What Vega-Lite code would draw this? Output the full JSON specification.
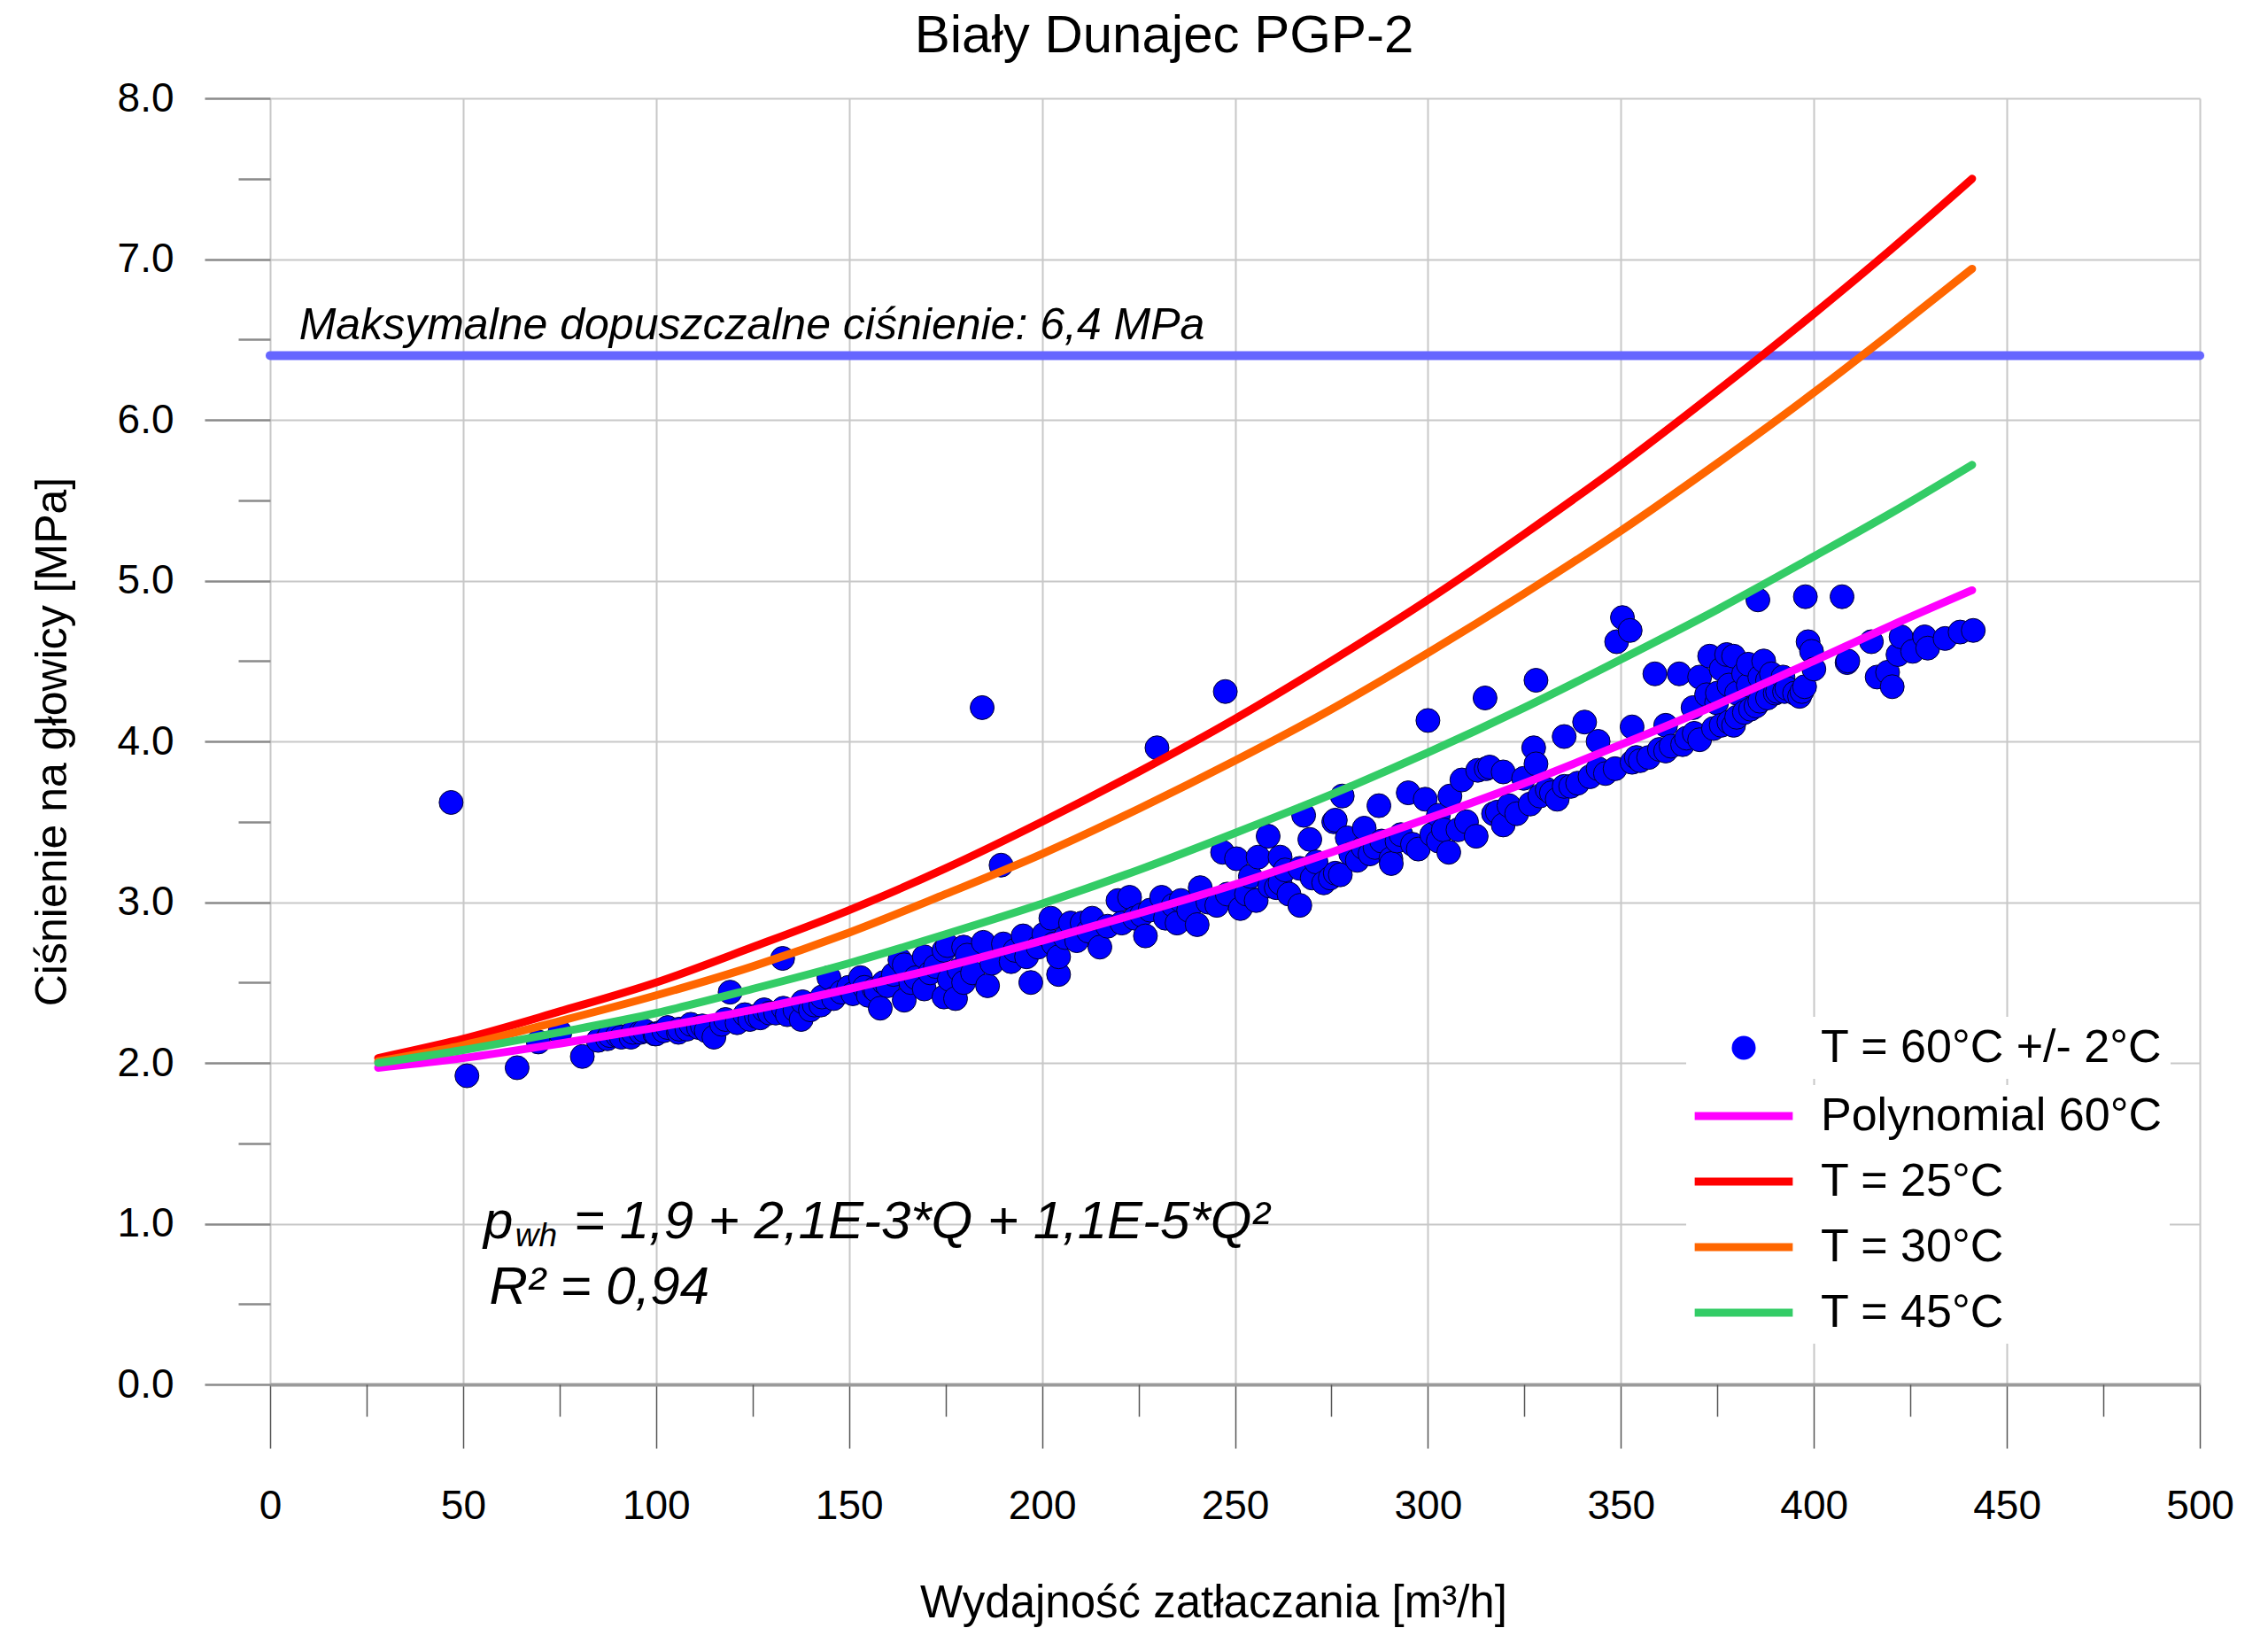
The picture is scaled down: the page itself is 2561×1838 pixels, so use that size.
{
  "$schema": "https://vega.github.io/schema/vega-lite/v6.json",
  "width": 2179,
  "height": 1452,
  "autosize": {"type": "none"},
  "padding": {"left": 305, "top": 111, "right": 77, "bottom": 275},
  "background": "white",
  "title": {"text": "Biały Dunajec PGP-2", "font": "Liberation Sans", "fontSize": 60, "fontWeight": "normal", "color": "black", "anchor": "middle", "frame": "group", "dx": -80, "dy": 61, "baseline": "alphabetic", "offset": 30},
  "config": {"view": {"stroke": null}, "font": "Liberation Sans"},
  "datasets": {
    "pts": [
      {"Q":46.9,"p":3.62,"s":"T = 60°C +/- 2°C"},{"Q":51,"p":1.92,"s":"T = 60°C +/- 2°C"},{"Q":64,"p":1.97,"s":"T = 60°C +/- 2°C"},{"Q":80.9,"p":2.04,"s":"T = 60°C +/- 2°C"},{"Q":69.5,"p":2.13,"s":"T = 60°C +/- 2°C"},{"Q":75.1,"p":2.19,"s":"T = 60°C +/- 2°C"},{"Q":85,"p":2.14,"s":"T = 60°C +/- 2°C"},{"Q":87.4,"p":2.15,"s":"T = 60°C +/- 2°C"},{"Q":88,"p":2.17,"s":"T = 60°C +/- 2°C"},{"Q":90,"p":2.17,"s":"T = 60°C +/- 2°C"},
      {"Q":91,"p":2.16,"s":"T = 60°C +/- 2°C"},{"Q":93.5,"p":2.16,"s":"T = 60°C +/- 2°C"},{"Q":94,"p":2.19,"s":"T = 60°C +/- 2°C"},{"Q":96,"p":2.19,"s":"T = 60°C +/- 2°C"},{"Q":97,"p":2.2,"s":"T = 60°C +/- 2°C"},{"Q":99.7,"p":2.18,"s":"T = 60°C +/- 2°C"},{"Q":100,"p":2.18,"s":"T = 60°C +/- 2°C"},{"Q":102,"p":2.2,"s":"T = 60°C +/- 2°C"},{"Q":103,"p":2.22,"s":"T = 60°C +/- 2°C"},{"Q":105.8,"p":2.19,"s":"T = 60°C +/- 2°C"},
      {"Q":106,"p":2.21,"s":"T = 60°C +/- 2°C"},{"Q":108,"p":2.21,"s":"T = 60°C +/- 2°C"},{"Q":109,"p":2.24,"s":"T = 60°C +/- 2°C"},{"Q":111,"p":2.22,"s":"T = 60°C +/- 2°C"},{"Q":112,"p":2.23,"s":"T = 60°C +/- 2°C"},{"Q":113,"p":2.2,"s":"T = 60°C +/- 2°C"},{"Q":115,"p":2.16,"s":"T = 60°C +/- 2°C"},{"Q":117,"p":2.24,"s":"T = 60°C +/- 2°C"},{"Q":118,"p":2.27,"s":"T = 60°C +/- 2°C"},{"Q":119.2,"p":2.44,"s":"T = 60°C +/- 2°C"},
      {"Q":121,"p":2.25,"s":"T = 60°C +/- 2°C"},{"Q":123,"p":2.3,"s":"T = 60°C +/- 2°C"},{"Q":124.3,"p":2.27,"s":"T = 60°C +/- 2°C"},{"Q":126,"p":2.29,"s":"T = 60°C +/- 2°C"},{"Q":127,"p":2.28,"s":"T = 60°C +/- 2°C"},{"Q":128,"p":2.33,"s":"T = 60°C +/- 2°C"},{"Q":129.4,"p":2.31,"s":"T = 60°C +/- 2°C"},{"Q":131,"p":2.31,"s":"T = 60°C +/- 2°C"},{"Q":132.8,"p":2.65,"s":"T = 60°C +/- 2°C"},{"Q":133,"p":2.34,"s":"T = 60°C +/- 2°C"},
      {"Q":134,"p":2.3,"s":"T = 60°C +/- 2°C"},{"Q":136,"p":2.33,"s":"T = 60°C +/- 2°C"},{"Q":137.6,"p":2.27,"s":"T = 60°C +/- 2°C"},{"Q":138,"p":2.38,"s":"T = 60°C +/- 2°C"},{"Q":140,"p":2.33,"s":"T = 60°C +/- 2°C"},{"Q":141,"p":2.36,"s":"T = 60°C +/- 2°C"},{"Q":142.7,"p":2.36,"s":"T = 60°C +/- 2°C"},{"Q":143,"p":2.41,"s":"T = 60°C +/- 2°C"},{"Q":144.8,"p":2.53,"s":"T = 60°C +/- 2°C"},{"Q":146,"p":2.4,"s":"T = 60°C +/- 2°C"},
      {"Q":148,"p":2.44,"s":"T = 60°C +/- 2°C"},{"Q":149.9,"p":2.47,"s":"T = 60°C +/- 2°C"},{"Q":151,"p":2.43,"s":"T = 60°C +/- 2°C"},{"Q":153,"p":2.53,"s":"T = 60°C +/- 2°C"},{"Q":154,"p":2.47,"s":"T = 60°C +/- 2°C"},{"Q":155,"p":2.42,"s":"T = 60°C +/- 2°C"},{"Q":156.5,"p":2.46,"s":"T = 60°C +/- 2°C"},{"Q":157,"p":2.45,"s":"T = 60°C +/- 2°C"},{"Q":158.1,"p":2.34,"s":"T = 60°C +/- 2°C"},{"Q":159,"p":2.5,"s":"T = 60°C +/- 2°C"},
      {"Q":160,"p":2.48,"s":"T = 60°C +/- 2°C"},{"Q":161.5,"p":2.55,"s":"T = 60°C +/- 2°C"},{"Q":163.2,"p":2.64,"s":"T = 60°C +/- 2°C"},{"Q":164.3,"p":2.61,"s":"T = 60°C +/- 2°C"},{"Q":164.3,"p":2.39,"s":"T = 60°C +/- 2°C"},{"Q":166,"p":2.5,"s":"T = 60°C +/- 2°C"},{"Q":167.3,"p":2.53,"s":"T = 60°C +/- 2°C"},{"Q":169.5,"p":2.66,"s":"T = 60°C +/- 2°C"},{"Q":169.5,"p":2.46,"s":"T = 60°C +/- 2°C"},{"Q":171,"p":2.56,"s":"T = 60°C +/- 2°C"},
      {"Q":172.4,"p":2.6,"s":"T = 60°C +/- 2°C"},{"Q":174.6,"p":2.7,"s":"T = 60°C +/- 2°C"},{"Q":174.6,"p":2.41,"s":"T = 60°C +/- 2°C"},{"Q":175.5,"p":2.73,"s":"T = 60°C +/- 2°C"},{"Q":176,"p":2.52,"s":"T = 60°C +/- 2°C"},{"Q":177.6,"p":2.4,"s":"T = 60°C +/- 2°C"},{"Q":178.5,"p":2.58,"s":"T = 60°C +/- 2°C"},{"Q":179.7,"p":2.72,"s":"T = 60°C +/- 2°C"},{"Q":179.7,"p":2.5,"s":"T = 60°C +/- 2°C"},{"Q":180.6,"p":2.67,"s":"T = 60°C +/- 2°C"},
      {"Q":182,"p":2.56,"s":"T = 60°C +/- 2°C"},{"Q":184.5,"p":4.21,"s":"T = 60°C +/- 2°C"},{"Q":184.8,"p":2.75,"s":"T = 60°C +/- 2°C"},{"Q":185.9,"p":2.48,"s":"T = 60°C +/- 2°C"},{"Q":187,"p":2.62,"s":"T = 60°C +/- 2°C"},{"Q":189.4,"p":3.23,"s":"T = 60°C +/- 2°C"},{"Q":190,"p":2.74,"s":"T = 60°C +/- 2°C"},{"Q":192,"p":2.63,"s":"T = 60°C +/- 2°C"},{"Q":193,"p":2.7,"s":"T = 60°C +/- 2°C"},{"Q":195.1,"p":2.79,"s":"T = 60°C +/- 2°C"},
      {"Q":196,"p":2.66,"s":"T = 60°C +/- 2°C"},{"Q":197.1,"p":2.5,"s":"T = 60°C +/- 2°C"},{"Q":199,"p":2.72,"s":"T = 60°C +/- 2°C"},{"Q":200.5,"p":2.8,"s":"T = 60°C +/- 2°C"},{"Q":202.3,"p":2.9,"s":"T = 60°C +/- 2°C"},{"Q":203,"p":2.74,"s":"T = 60°C +/- 2°C"},{"Q":204.3,"p":2.55,"s":"T = 60°C +/- 2°C"},{"Q":204.3,"p":2.66,"s":"T = 60°C +/- 2°C"},{"Q":206,"p":2.78,"s":"T = 60°C +/- 2°C"},{"Q":207.4,"p":2.87,"s":"T = 60°C +/- 2°C"},
      {"Q":209,"p":2.76,"s":"T = 60°C +/- 2°C"},{"Q":210.4,"p":2.87,"s":"T = 60°C +/- 2°C"},{"Q":212,"p":2.82,"s":"T = 60°C +/- 2°C"},{"Q":213,"p":2.9,"s":"T = 60°C +/- 2°C"},{"Q":215,"p":2.72,"s":"T = 60°C +/- 2°C"},{"Q":217,"p":2.85,"s":"T = 60°C +/- 2°C"},{"Q":219.7,"p":3.01,"s":"T = 60°C +/- 2°C"},{"Q":220.7,"p":2.87,"s":"T = 60°C +/- 2°C"},{"Q":222.7,"p":3.03,"s":"T = 60°C +/- 2°C"},{"Q":224,"p":2.9,"s":"T = 60°C +/- 2°C"},
      {"Q":225.8,"p":2.92,"s":"T = 60°C +/- 2°C"},{"Q":226.8,"p":2.79,"s":"T = 60°C +/- 2°C"},{"Q":228,"p":2.95,"s":"T = 60°C +/- 2°C"},{"Q":229.8,"p":3.96,"s":"T = 60°C +/- 2°C"},{"Q":231,"p":3.03,"s":"T = 60°C +/- 2°C"},{"Q":232,"p":2.9,"s":"T = 60°C +/- 2°C"},{"Q":234,"p":2.98,"s":"T = 60°C +/- 2°C"},{"Q":235,"p":2.87,"s":"T = 60°C +/- 2°C"},{"Q":236,"p":3.01,"s":"T = 60°C +/- 2°C"},{"Q":238,"p":2.95,"s":"T = 60°C +/- 2°C"},
      {"Q":240.2,"p":2.86,"s":"T = 60°C +/- 2°C"},{"Q":241,"p":3.09,"s":"T = 60°C +/- 2°C"},{"Q":243,"p":3.0,"s":"T = 60°C +/- 2°C"},{"Q":245.3,"p":2.98,"s":"T = 60°C +/- 2°C"},{"Q":246.8,"p":3.31,"s":"T = 60°C +/- 2°C"},{"Q":247.5,"p":4.31,"s":"T = 60°C +/- 2°C"},{"Q":248,"p":3.05,"s":"T = 60°C +/- 2°C"},{"Q":250.4,"p":3.27,"s":"T = 60°C +/- 2°C"},{"Q":251.4,"p":2.96,"s":"T = 60°C +/- 2°C"},{"Q":253,"p":3.05,"s":"T = 60°C +/- 2°C"},
      {"Q":254,"p":3.16,"s":"T = 60°C +/- 2°C"},{"Q":255.5,"p":3.01,"s":"T = 60°C +/- 2°C"},{"Q":256,"p":3.28,"s":"T = 60°C +/- 2°C"},{"Q":258.6,"p":3.41,"s":"T = 60°C +/- 2°C"},{"Q":259,"p":3.1,"s":"T = 60°C +/- 2°C"},{"Q":260.7,"p":3.09,"s":"T = 60°C +/- 2°C"},{"Q":261.7,"p":3.28,"s":"T = 60°C +/- 2°C"},{"Q":261.7,"p":3.12,"s":"T = 60°C +/- 2°C"},{"Q":263,"p":3.2,"s":"T = 60°C +/- 2°C"},{"Q":264,"p":3.05,"s":"T = 60°C +/- 2°C"},
      {"Q":266.8,"p":2.98,"s":"T = 60°C +/- 2°C"},{"Q":266.8,"p":3.21,"s":"T = 60°C +/- 2°C"},{"Q":267.8,"p":3.54,"s":"T = 60°C +/- 2°C"},{"Q":269.4,"p":3.39,"s":"T = 60°C +/- 2°C"},{"Q":270,"p":3.15,"s":"T = 60°C +/- 2°C"},{"Q":271,"p":3.25,"s":"T = 60°C +/- 2°C"},{"Q":273,"p":3.12,"s":"T = 60°C +/- 2°C"},{"Q":274.7,"p":3.15,"s":"T = 60°C +/- 2°C"},{"Q":275.6,"p":3.5,"s":"T = 60°C +/- 2°C"},{"Q":276,"p":3.18,"s":"T = 60°C +/- 2°C"},
      {"Q":276,"p":3.51,"s":"T = 60°C +/- 2°C"},{"Q":277.3,"p":3.17,"s":"T = 60°C +/- 2°C"},{"Q":277.8,"p":3.66,"s":"T = 60°C +/- 2°C"},{"Q":279.1,"p":3.4,"s":"T = 60°C +/- 2°C"},{"Q":280,"p":3.3,"s":"T = 60°C +/- 2°C"},{"Q":281.7,"p":3.26,"s":"T = 60°C +/- 2°C"},{"Q":283.2,"p":3.34,"s":"T = 60°C +/- 2°C"},{"Q":283.5,"p":3.46,"s":"T = 60°C +/- 2°C"},{"Q":285,"p":3.3,"s":"T = 60°C +/- 2°C"},{"Q":286.3,"p":3.34,"s":"T = 60°C +/- 2°C"},
      {"Q":287.3,"p":3.6,"s":"T = 60°C +/- 2°C"},{"Q":288,"p":3.38,"s":"T = 60°C +/- 2°C"},{"Q":290.4,"p":3.27,"s":"T = 60°C +/- 2°C"},{"Q":290.5,"p":3.24,"s":"T = 60°C +/- 2°C"},{"Q":292,"p":3.38,"s":"T = 60°C +/- 2°C"},{"Q":293,"p":3.42,"s":"T = 60°C +/- 2°C"},{"Q":294.9,"p":3.68,"s":"T = 60°C +/- 2°C"},{"Q":296,"p":3.36,"s":"T = 60°C +/- 2°C"},{"Q":297.5,"p":3.33,"s":"T = 60°C +/- 2°C"},{"Q":299.3,"p":3.64,"s":"T = 60°C +/- 2°C"},
      {"Q":300,"p":4.13,"s":"T = 60°C +/- 2°C"},{"Q":301,"p":3.42,"s":"T = 60°C +/- 2°C"},{"Q":302.7,"p":3.38,"s":"T = 60°C +/- 2°C"},{"Q":302.7,"p":3.54,"s":"T = 60°C +/- 2°C"},{"Q":304,"p":3.45,"s":"T = 60°C +/- 2°C"},{"Q":305.4,"p":3.31,"s":"T = 60°C +/- 2°C"},{"Q":305.7,"p":3.66,"s":"T = 60°C +/- 2°C"},{"Q":307.8,"p":3.45,"s":"T = 60°C +/- 2°C"},{"Q":308.8,"p":3.76,"s":"T = 60°C +/- 2°C"},{"Q":310,"p":3.5,"s":"T = 60°C +/- 2°C"},
      {"Q":312.5,"p":3.41,"s":"T = 60°C +/- 2°C"},{"Q":312.9,"p":3.82,"s":"T = 60°C +/- 2°C"},{"Q":314.8,"p":4.27,"s":"T = 60°C +/- 2°C"},{"Q":315.1,"p":3.83,"s":"T = 60°C +/- 2°C"},{"Q":316,"p":3.84,"s":"T = 60°C +/- 2°C"},{"Q":317,"p":3.55,"s":"T = 60°C +/- 2°C"},{"Q":318,"p":3.56,"s":"T = 60°C +/- 2°C"},{"Q":319.5,"p":3.48,"s":"T = 60°C +/- 2°C"},{"Q":319.5,"p":3.81,"s":"T = 60°C +/- 2°C"},{"Q":321,"p":3.6,"s":"T = 60°C +/- 2°C"},
      {"Q":323,"p":3.55,"s":"T = 60°C +/- 2°C"},{"Q":324.8,"p":3.77,"s":"T = 60°C +/- 2°C"},{"Q":326.5,"p":3.61,"s":"T = 60°C +/- 2°C"},{"Q":327.4,"p":3.96,"s":"T = 60°C +/- 2°C"},{"Q":328,"p":4.38,"s":"T = 60°C +/- 2°C"},{"Q":328,"p":3.86,"s":"T = 60°C +/- 2°C"},{"Q":329,"p":3.66,"s":"T = 60°C +/- 2°C"},{"Q":330.9,"p":3.7,"s":"T = 60°C +/- 2°C"},{"Q":332,"p":3.68,"s":"T = 60°C +/- 2°C"},{"Q":333.5,"p":3.64,"s":"T = 60°C +/- 2°C"},
      {"Q":335.3,"p":4.03,"s":"T = 60°C +/- 2°C"},{"Q":335.3,"p":3.72,"s":"T = 60°C +/- 2°C"},{"Q":337,"p":3.72,"s":"T = 60°C +/- 2°C"},{"Q":338.8,"p":3.74,"s":"T = 60°C +/- 2°C"},{"Q":340.6,"p":4.12,"s":"T = 60°C +/- 2°C"},{"Q":342,"p":3.78,"s":"T = 60°C +/- 2°C"},{"Q":344.1,"p":4.0,"s":"T = 60°C +/- 2°C"},{"Q":344.1,"p":3.83,"s":"T = 60°C +/- 2°C"},{"Q":346,"p":3.8,"s":"T = 60°C +/- 2°C"},{"Q":348.5,"p":3.83,"s":"T = 60°C +/- 2°C"},
      {"Q":348.9,"p":4.62,"s":"T = 60°C +/- 2°C"},{"Q":350.4,"p":4.77,"s":"T = 60°C +/- 2°C"},{"Q":352.4,"p":4.69,"s":"T = 60°C +/- 2°C"},{"Q":352.9,"p":4.09,"s":"T = 60°C +/- 2°C"},{"Q":352.9,"p":3.87,"s":"T = 60°C +/- 2°C"},{"Q":354,"p":3.9,"s":"T = 60°C +/- 2°C"},{"Q":355,"p":3.88,"s":"T = 60°C +/- 2°C"},{"Q":357.2,"p":3.9,"s":"T = 60°C +/- 2°C"},{"Q":358.8,"p":4.42,"s":"T = 60°C +/- 2°C"},{"Q":360,"p":3.95,"s":"T = 60°C +/- 2°C"},
      {"Q":361.6,"p":4.1,"s":"T = 60°C +/- 2°C"},{"Q":361.6,"p":3.94,"s":"T = 60°C +/- 2°C"},{"Q":363,"p":3.97,"s":"T = 60°C +/- 2°C"},{"Q":365.1,"p":4.42,"s":"T = 60°C +/- 2°C"},{"Q":366,"p":3.98,"s":"T = 60°C +/- 2°C"},{"Q":367,"p":4.02,"s":"T = 60°C +/- 2°C"},{"Q":368.7,"p":4.21,"s":"T = 60°C +/- 2°C"},{"Q":369,"p":4.05,"s":"T = 60°C +/- 2°C"},{"Q":370.4,"p":4.4,"s":"T = 60°C +/- 2°C"},{"Q":370.4,"p":4.01,"s":"T = 60°C +/- 2°C"},
      {"Q":372.2,"p":4.29,"s":"T = 60°C +/- 2°C"},{"Q":373,"p":4.53,"s":"T = 60°C +/- 2°C"},{"Q":374,"p":4.08,"s":"T = 60°C +/- 2°C"},{"Q":374.8,"p":4.24,"s":"T = 60°C +/- 2°C"},{"Q":375,"p":4.3,"s":"T = 60°C +/- 2°C"},{"Q":376,"p":4.1,"s":"T = 60°C +/- 2°C"},{"Q":376,"p":4.45,"s":"T = 60°C +/- 2°C"},{"Q":377.4,"p":4.54,"s":"T = 60°C +/- 2°C"},{"Q":378,"p":4.12,"s":"T = 60°C +/- 2°C"},{"Q":378,"p":4.35,"s":"T = 60°C +/- 2°C"},
      {"Q":379.2,"p":4.53,"s":"T = 60°C +/- 2°C"},{"Q":379.2,"p":4.1,"s":"T = 60°C +/- 2°C"},{"Q":380,"p":4.15,"s":"T = 60°C +/- 2°C"},{"Q":380,"p":4.3,"s":"T = 60°C +/- 2°C"},{"Q":381.8,"p":4.42,"s":"T = 60°C +/- 2°C"},{"Q":382,"p":4.18,"s":"T = 60°C +/- 2°C"},{"Q":383,"p":4.35,"s":"T = 60°C +/- 2°C"},{"Q":383,"p":4.48,"s":"T = 60°C +/- 2°C"},{"Q":383.6,"p":4.2,"s":"T = 60°C +/- 2°C"},{"Q":385,"p":4.22,"s":"T = 60°C +/- 2°C"},
      {"Q":385.5,"p":4.88,"s":"T = 60°C +/- 2°C"},{"Q":386,"p":4.25,"s":"T = 60°C +/- 2°C"},{"Q":386,"p":4.4,"s":"T = 60°C +/- 2°C"},{"Q":387,"p":4.5,"s":"T = 60°C +/- 2°C"},{"Q":388,"p":4.38,"s":"T = 60°C +/- 2°C"},{"Q":388,"p":4.27,"s":"T = 60°C +/- 2°C"},{"Q":389,"p":4.42,"s":"T = 60°C +/- 2°C"},{"Q":390,"p":4.3,"s":"T = 60°C +/- 2°C"},{"Q":390.6,"p":4.31,"s":"T = 60°C +/- 2°C"},{"Q":392,"p":4.4,"s":"T = 60°C +/- 2°C"},
      {"Q":392.4,"p":4.31,"s":"T = 60°C +/- 2°C"},{"Q":393,"p":4.33,"s":"T = 60°C +/- 2°C"},{"Q":395,"p":4.3,"s":"T = 60°C +/- 2°C"},{"Q":396.3,"p":4.28,"s":"T = 60°C +/- 2°C"},{"Q":396.9,"p":4.31,"s":"T = 60°C +/- 2°C"},{"Q":397.6,"p":4.34,"s":"T = 60°C +/- 2°C"},{"Q":397.8,"p":4.9,"s":"T = 60°C +/- 2°C"},{"Q":398.5,"p":4.62,"s":"T = 60°C +/- 2°C"},{"Q":399.4,"p":4.56,"s":"T = 60°C +/- 2°C"},{"Q":400,"p":4.45,"s":"T = 60°C +/- 2°C"},
      {"Q":407.3,"p":4.9,"s":"T = 60°C +/- 2°C"},{"Q":408.6,"p":4.49,"s":"T = 60°C +/- 2°C"},{"Q":408.8,"p":4.5,"s":"T = 60°C +/- 2°C"},{"Q":414.9,"p":4.62,"s":"T = 60°C +/- 2°C"},{"Q":416.4,"p":4.4,"s":"T = 60°C +/- 2°C"},{"Q":419.1,"p":4.43,"s":"T = 60°C +/- 2°C"},{"Q":420.3,"p":4.34,"s":"T = 60°C +/- 2°C"},{"Q":421.8,"p":4.54,"s":"T = 60°C +/- 2°C"},{"Q":422.6,"p":4.65,"s":"T = 60°C +/- 2°C"},{"Q":425.6,"p":4.56,"s":"T = 60°C +/- 2°C"},
      {"Q":428.7,"p":4.65,"s":"T = 60°C +/- 2°C"},{"Q":429.5,"p":4.58,"s":"T = 60°C +/- 2°C"},{"Q":434,"p":4.64,"s":"T = 60°C +/- 2°C"},{"Q":437.9,"p":4.68,"s":"T = 60°C +/- 2°C"},{"Q":441.3,"p":4.69,"s":"T = 60°C +/- 2°C"}
    ],
    "curves": [
      {"Q":28,"p":1.97,"s":"Polynomial 60°C"},{"Q":50,"p":2.03,"s":"Polynomial 60°C"},{"Q":75,"p":2.12,"s":"Polynomial 60°C"},{"Q":100,"p":2.22,"s":"Polynomial 60°C"},{"Q":125,"p":2.33,"s":"Polynomial 60°C"},{"Q":150,"p":2.46,"s":"Polynomial 60°C"},{"Q":175,"p":2.6,"s":"Polynomial 60°C"},{"Q":200,"p":2.76,"s":"Polynomial 60°C"},{"Q":225,"p":2.93,"s":"Polynomial 60°C"},{"Q":250,"p":3.11,"s":"Polynomial 60°C"},{"Q":275,"p":3.31,"s":"Polynomial 60°C"},{"Q":300,"p":3.52,"s":"Polynomial 60°C"},{"Q":325,"p":3.74,"s":"Polynomial 60°C"},{"Q":350,"p":3.98,"s":"Polynomial 60°C"},{"Q":375,"p":4.23,"s":"Polynomial 60°C"},{"Q":400,"p":4.5,"s":"Polynomial 60°C"},{"Q":420,"p":4.72,"s":"Polynomial 60°C"},{"Q":441,"p":4.94,"s":"Polynomial 60°C"},
      {"Q":28,"p":2.03,"s":"T = 25°C"},{"Q":50,"p":2.15,"s":"T = 25°C"},{"Q":75,"p":2.32,"s":"T = 25°C"},{"Q":100,"p":2.5,"s":"T = 25°C"},{"Q":125,"p":2.72,"s":"T = 25°C"},{"Q":150,"p":2.95,"s":"T = 25°C"},{"Q":175,"p":3.21,"s":"T = 25°C"},{"Q":200,"p":3.5,"s":"T = 25°C"},{"Q":225,"p":3.81,"s":"T = 25°C"},{"Q":250,"p":4.14,"s":"T = 25°C"},{"Q":275,"p":4.5,"s":"T = 25°C"},{"Q":300,"p":4.88,"s":"T = 25°C"},{"Q":325,"p":5.29,"s":"T = 25°C"},{"Q":350,"p":5.72,"s":"T = 25°C"},{"Q":375,"p":6.18,"s":"T = 25°C"},{"Q":400,"p":6.66,"s":"T = 25°C"},{"Q":420,"p":7.06,"s":"T = 25°C"},{"Q":441,"p":7.5,"s":"T = 25°C"},
      {"Q":28,"p":2.01,"s":"T = 30°C"},{"Q":50,"p":2.11,"s":"T = 30°C"},{"Q":75,"p":2.26,"s":"T = 30°C"},{"Q":100,"p":2.42,"s":"T = 30°C"},{"Q":125,"p":2.6,"s":"T = 30°C"},{"Q":150,"p":2.81,"s":"T = 30°C"},{"Q":175,"p":3.05,"s":"T = 30°C"},{"Q":200,"p":3.3,"s":"T = 30°C"},{"Q":225,"p":3.58,"s":"T = 30°C"},{"Q":250,"p":3.88,"s":"T = 30°C"},{"Q":275,"p":4.2,"s":"T = 30°C"},{"Q":300,"p":4.55,"s":"T = 30°C"},{"Q":325,"p":4.92,"s":"T = 30°C"},{"Q":350,"p":5.31,"s":"T = 30°C"},{"Q":375,"p":5.73,"s":"T = 30°C"},{"Q":400,"p":6.17,"s":"T = 30°C"},{"Q":420,"p":6.54,"s":"T = 30°C"},{"Q":441,"p":6.94,"s":"T = 30°C"},
      {"Q":28,"p":2.0,"s":"T = 45°C"},{"Q":50,"p":2.08,"s":"T = 45°C"},{"Q":75,"p":2.19,"s":"T = 45°C"},{"Q":100,"p":2.31,"s":"T = 45°C"},{"Q":125,"p":2.46,"s":"T = 45°C"},{"Q":150,"p":2.62,"s":"T = 45°C"},{"Q":175,"p":2.8,"s":"T = 45°C"},{"Q":200,"p":2.99,"s":"T = 45°C"},{"Q":225,"p":3.2,"s":"T = 45°C"},{"Q":250,"p":3.43,"s":"T = 45°C"},{"Q":275,"p":3.67,"s":"T = 45°C"},{"Q":300,"p":3.93,"s":"T = 45°C"},{"Q":325,"p":4.21,"s":"T = 45°C"},{"Q":350,"p":4.51,"s":"T = 45°C"},{"Q":375,"p":4.82,"s":"T = 45°C"},{"Q":400,"p":5.15,"s":"T = 45°C"},{"Q":420,"p":5.42,"s":"T = 45°C"},{"Q":441,"p":5.72,"s":"T = 45°C"}
    ]
  },
  "resolve": {"axis": {"x": "independent", "y": "independent"}},
  "layer": [
    {
      "data": {"values": [{"limit": 6.4}]},
      "mark": {"type": "rule", "color": "#6666ff", "strokeWidth": 10, "strokeCap": "round"},
      "encoding": {
        "y": {"field": "limit", "type": "quantitative", "scale": {"domain": [0, 8], "nice": false}, "axis": null}
      }
    },
    {
      "data": {"name": "pts"},
      "mark": {"type": "point", "filled": true, "opacity": 1, "size": 729, "color": "#0000ff", "stroke": "#000033", "strokeWidth": 1},
      "encoding": {
        "x": {"field": "Q", "type": "quantitative", "scale": {"domain": [0, 500], "nice": false, "zero": false},
          "axis": {"orient": "bottom", "values": [0,50,100,150,200,250,300,350,400,450,500], "title": "Wydajność zatłaczania [m³/h]",
            "grid": true, "gridColor": "#c8c8c8", "gridWidth": 2, "tickSize": 72, "tickColor": "#555555", "tickWidth": 1.5,
            "labelFontSize": 46, "labelFont": "Liberation Sans", "labelColor": "black", "labelPadding": 43, "labelFlush": false, "labelOverlap": false,
            "domain": true, "domainColor": "#9a9a9a", "domainWidth": 4,
            "titleFontSize": 51, "titleFont": "Liberation Sans", "titleFontWeight": "normal", "titleColor": "black", "titlePadding": 62, "titleX": 1065, "titleAlign": "center"}},
        "y": {"field": "p", "type": "quantitative", "scale": {"domain": [0, 8], "nice": false},
          "axis": {"orient": "left", "values": [0,1,2,3,4,5,6,7,8], "format": ".1f", "title": "Ciśnienie na głowicy [MPa]",
            "grid": true, "gridColor": "#c8c8c8", "gridWidth": 2, "tickSize": 74, "tickColor": "#8a8a8a", "tickWidth": 2.5,
            "labelFontSize": 46, "labelFont": "Liberation Sans", "labelColor": "black", "labelPadding": 35, "labelFlush": false, "labelOverlap": false,
            "domain": false,
            "titleFontSize": 50, "titleFont": "Liberation Sans", "titleFontWeight": "normal", "titleColor": "black", "titlePadding": 48}},
        "shape": {"field": "s", "type": "nominal", "scale": {"range": ["circle"]},
          "legend": {"title": null, "orient": "none", "legendX": 1599, "legendY": 1037, "padding": 9, "fillColor": "white",
            "labelFontSize": 52, "labelFont": "Liberation Sans", "labelColor": "black", "labelLimit": 0, "labelOffset": 61,
            "symbolOffset": 30, "symbolSize": 729, "symbolFillColor": "#0000ff", "symbolStrokeColor": "#0000ff", "symbolStrokeWidth": 0, "symbolOpacity": 1}}
      }
    },
    {
      "data": {"name": "curves"},
      "mark": {"type": "line", "strokeWidth": 9, "strokeCap": "round", "interpolate": "monotone"},
      "encoding": {
        "x": {"field": "Q", "type": "quantitative",
          "axis": {"orient": "bottom", "values": [25,75,125,175,225,275,325,375,425,475], "grid": false, "labels": false, "domain": false, "tickSize": 36, "tickColor": "#555555", "tickWidth": 1.5, "title": null}},
        "y": {"field": "p", "type": "quantitative",
          "axis": {"orient": "left", "values": [0.5,1.5,2.5,3.5,4.5,5.5,6.5,7.5], "grid": false, "labels": false, "domain": false, "tickSize": 36, "tickColor": "#8a8a8a", "tickWidth": 2.5, "title": null}},
        "color": {"field": "s", "type": "nominal",
          "scale": {"domain": ["Polynomial 60°C", "T = 25°C", "T = 30°C", "T = 45°C"], "range": ["#ff00ff", "#ff0000", "#ff6600", "#33cc66"]},
          "legend": {"title": null, "orient": "none", "legendX": 1599, "legendY": 1114, "padding": 9, "fillColor": "white",
            "labelFontSize": 52, "labelFont": "Liberation Sans", "labelColor": "black", "labelLimit": 0, "labelOffset": 61,
            "symbolOffset": 30, "symbolSize": 729, "symbolType": "M-4.1,0H4.1", "symbolStrokeWidth": 9, "symbolOpacity": 1, "rowPadding": 22}},
        "order": {"field": "Q", "type": "quantitative"}
      }
    },
    {
      "data": {"values": [{"t": "Maksymalne dopuszczalne ciśnienie: 6,4 MPa"}]},
      "mark": {"type": "text", "align": "left", "baseline": "alphabetic", "fontSize": 50, "fontStyle": "italic", "font": "Liberation Sans", "color": "black"},
      "encoding": {"text": {"field": "t"}, "x": {"datum": 7.5, "type": "quantitative", "axis": null}, "y": {"datum": 6.5, "type": "quantitative", "axis": null}}
    },
    {
      "data": {"values": [{"t": "p"}]},
      "mark": {"type": "text", "align": "left", "baseline": "alphabetic", "fontSize": 60, "fontStyle": "italic", "font": "Liberation Sans", "color": "black"},
      "encoding": {"text": {"field": "t"}, "x": {"datum": 55.3, "type": "quantitative", "axis": null}, "y": {"datum": 0.91, "type": "quantitative", "axis": null}}
    },
    {
      "data": {"values": [{"t": "wh"}]},
      "mark": {"type": "text", "align": "left", "baseline": "alphabetic", "fontSize": 37, "fontStyle": "italic", "font": "Liberation Sans", "color": "black"},
      "encoding": {"text": {"field": "t"}, "x": {"datum": 63.5, "type": "quantitative", "axis": null}, "y": {"datum": 0.86, "type": "quantitative", "axis": null}}
    },
    {
      "data": {"values": [{"t": "= 1,9 + 2,1E-3*Q + 1,1E-5*Q²"}]},
      "mark": {"type": "text", "align": "left", "baseline": "alphabetic", "fontSize": 60, "fontStyle": "italic", "font": "Liberation Sans", "color": "black"},
      "encoding": {"text": {"field": "t"}, "x": {"datum": 78.7, "type": "quantitative", "axis": null}, "y": {"datum": 0.91, "type": "quantitative", "axis": null}}
    },
    {
      "data": {"values": [{"t": "R² = 0,94"}]},
      "mark": {"type": "text", "align": "left", "baseline": "alphabetic", "fontSize": 60, "fontStyle": "italic", "font": "Liberation Sans", "color": "black"},
      "encoding": {"text": {"field": "t"}, "x": {"datum": 56.8, "type": "quantitative", "axis": null}, "y": {"datum": 0.5, "type": "quantitative", "axis": null}}
    }
  ]
}
